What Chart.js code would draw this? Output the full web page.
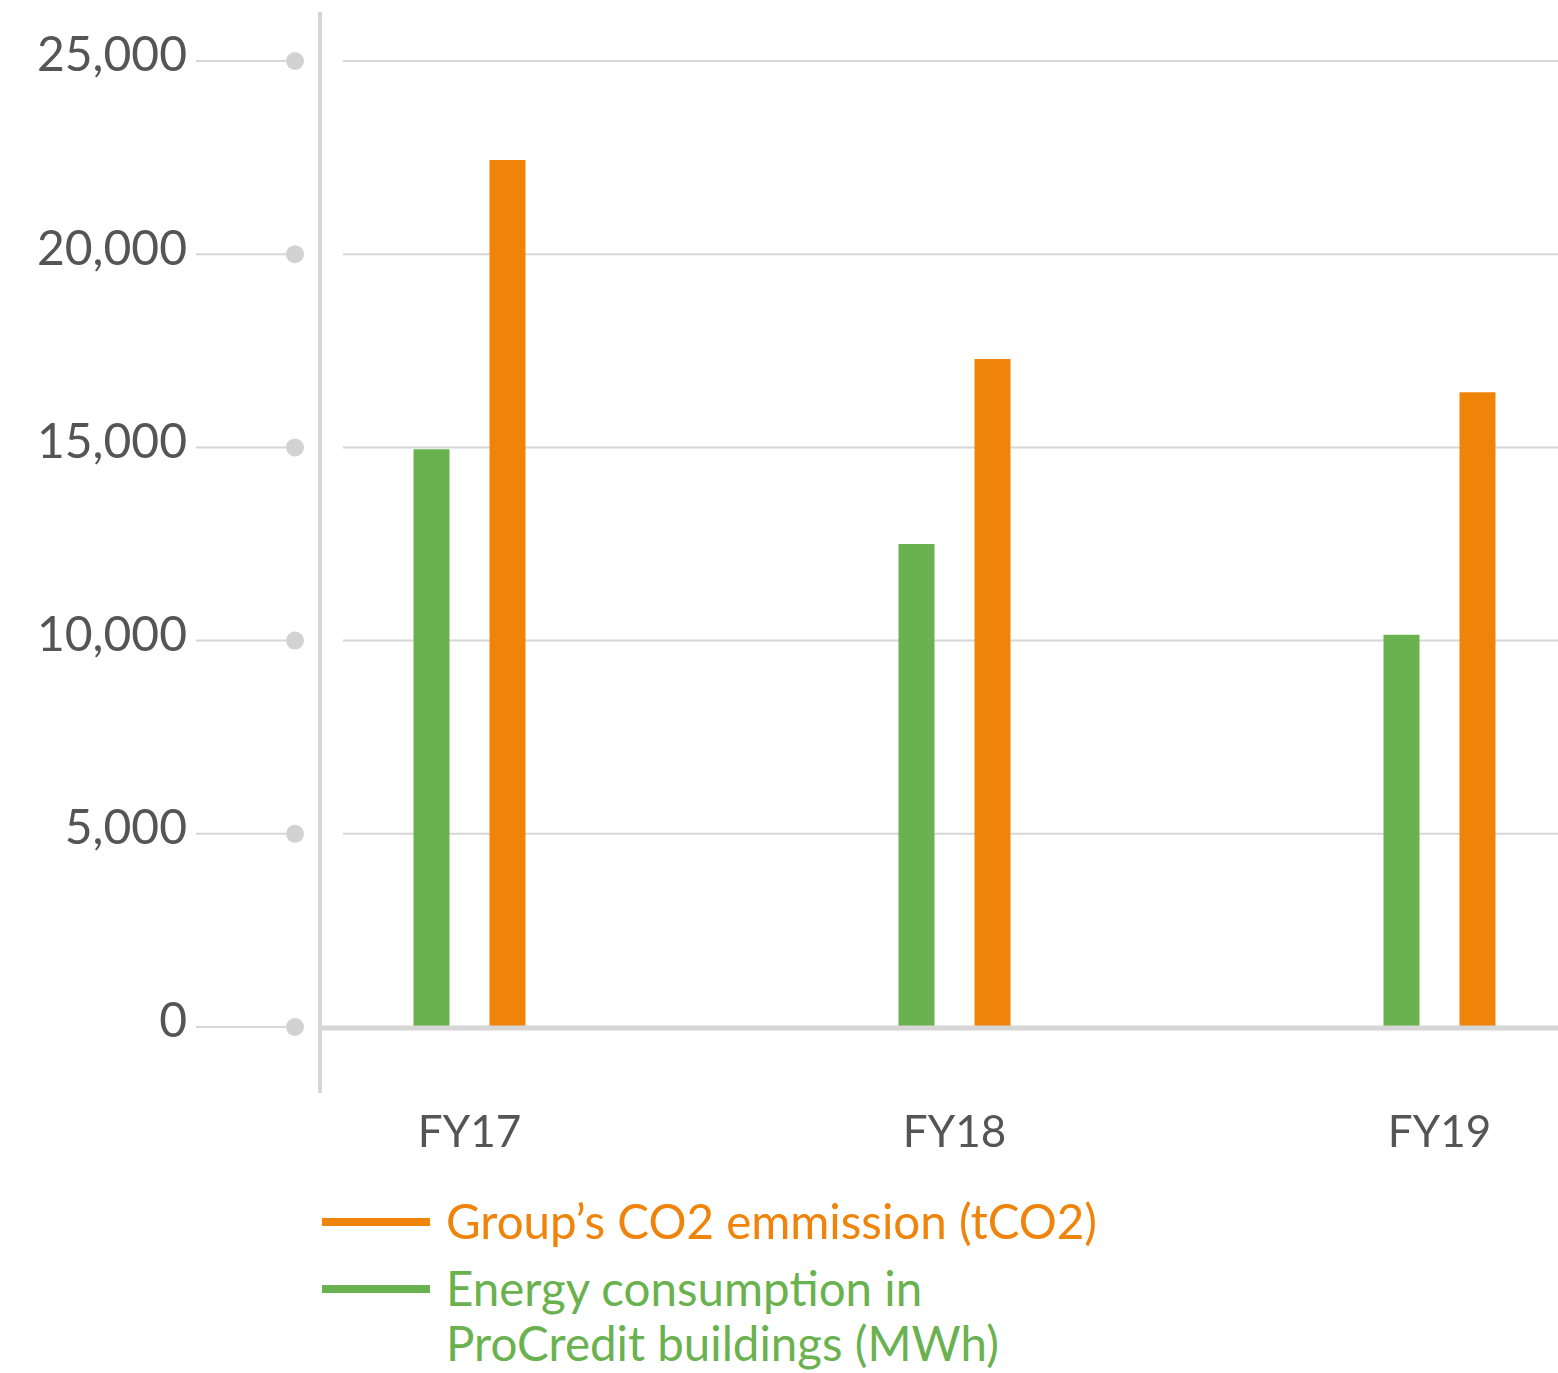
<!DOCTYPE html>
<html>
<head>
<meta charset="utf-8">
<script src="https://cdn.jsdelivr.net/npm/chart.js@4"></script>
<style>
  html, body { margin: 0; padding: 0; background: #fff; overflow: hidden; }
  body { width: 1558px; height: 1373px; position: relative; font-family: "Lato", sans-serif; }
  #wrap { position: absolute; left: 0; top: 0; width: 1700px; height: 1200px; }
  .legend-line { position: absolute; left: 322px; width: 108px; height: 8px; }
  .legend-text { position: absolute; left: 446px; font-size: 47.5px; line-height: 55px; white-space: nowrap; }
</style>
</head>
<body>
<div id="wrap"><canvas id="chart" width="1700" height="1200"></canvas></div>

<div class="legend-line" style="top:1218px;background:#f0830a"></div>
<div class="legend-text" style="top:1193px;color:#f0830a">Group’s CO2 emmission (tCO2)</div>
<div class="legend-line" style="top:1285px;background:#6ab24f"></div>
<div class="legend-text" style="top:1260px;color:#6ab24f">Energy consumption in<br>ProCredit buildings (MWh)</div>

<script>
const years = ["FY17", "FY18", "FY19"];
const energyMWh = [14950, 12500, 10150];
const co2Tonnes = [22440, 17290, 16430];
const yTicks = [0, 5000, 10000, 15000, 20000, 25000];

const green = "#6ab24f";
const orange = "#f0830a";
const gridColor = "#d6d6d6";

// left-hand decorations: label leaders, dots, the axis line and the gridlines
const decoPlugin = {
  id: "deco",
  beforeDatasetsDraw(chart) {
    const ctx = chart.ctx;
    const y = chart.scales.y;
    ctx.save();
    ctx.strokeStyle = gridColor;
    ctx.fillStyle = "#d2d2d2";
    yTicks.forEach(v => {
      const py = y.getPixelForValue(v);
      ctx.lineWidth = 2;
      ctx.beginPath();
      ctx.moveTo(196, py);
      ctx.lineTo(286, py);
      ctx.stroke();
      ctx.beginPath();
      ctx.arc(295, py, 9, 0, Math.PI * 2);
      ctx.fill();
      if (v !== 0) {
        ctx.beginPath();
        ctx.moveTo(343, py);
        ctx.lineTo(1558, py);
        ctx.stroke();
      }
    });
    ctx.lineWidth = 4;
    ctx.beginPath();
    ctx.moveTo(320, 12);
    ctx.lineTo(320, 1093);
    ctx.stroke();
    ctx.restore();
  },
  afterDatasetsDraw(chart) {
    const ctx = chart.ctx;
    const py = chart.scales.y.getPixelForValue(0);
    ctx.save();
    ctx.strokeStyle = gridColor;
    ctx.lineWidth = 5;
    ctx.beginPath();
    ctx.moveTo(320, py + 1);
    ctx.lineTo(1558, py + 1);
    ctx.stroke();
    ctx.restore();
  }
};

const chart = new Chart(document.getElementById("chart"), {
  type: "bar",
  data: {
    labels: years,
    datasets: [
      { label: "Energy consumption in ProCredit buildings (MWh)", data: energyMWh, backgroundColor: green },
      { label: "Group’s CO2 emmission (tCO2)", data: co2Tonnes, backgroundColor: orange }
    ]
  },
  options: {
    responsive: false,
    animation: false,
    categoryPercentage: 0.3134,
    barPercentage: 0.4737,
    layout: { padding: { left: 0, right: 18, top: 61, bottom: 0 } },
    plugins: { legend: { display: false }, tooltip: { enabled: false } },
    scales: {
      x: {
        grid: { display: false, drawTicks: false },
        border: { display: false },
        ticks: { color: "#555", font: { family: "Lato", size: 44 }, padding: 79 },
        afterFit: s => { s.height = 173; }
      },
      y: {
        min: 0,
        max: 25000,
        grid: { display: false, drawTicks: false },
        border: { display: false },
        afterBuildTicks: s => { s.ticks = yTicks.map(v => ({ value: v })); },
        ticks: {
          color: "#555",
          font: { family: "Lato", size: 48 },
          padding: 40,
          labelOffset: -5,
          callback: v => v.toLocaleString("en-US")
        },
        afterFit: s => { s.width = 227; s.paddingTop = 0; s.paddingBottom = 0; }
      }
    }
  },
  plugins: [decoPlugin]
});
</script>
</body>
</html>
